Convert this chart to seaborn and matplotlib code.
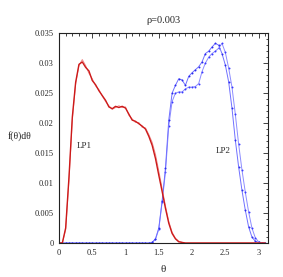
import numpy as np
import pandas as pd
import matplotlib
matplotlib.use("Agg")
import matplotlib.pyplot as plt
import seaborn as sns
from matplotlib.ticker import MultipleLocator, FuncFormatter

theta = np.round(np.arange(0, 3.101, 0.05), 2)

lp1_a = [0, 0, 0.0025, 0.0110, 0.0210, 0.0268, 0.0298, 0.0302, 0.0293, 0.0287,
         0.0271, 0.0264, 0.0254, 0.0246, 0.0238, 0.0227, 0.0224, 0.0228, 0.0226, 0.0228,
         0.0225, 0.0215, 0.0205, 0.0203, 0.0199, 0.0195, 0.0190, 0.0178, 0.0163, 0.0141,
         0.0113, 0.0086, 0.0058, 0.0033, 0.0016, 0.0007, 0.0002, 0.0001, 0, 0,
         0, 0, 0, 0, 0, 0, 0, 0, 0, 0,
         0, 0, 0, 0, 0, 0, 0, 0, 0, 0,
         0, 0, 0]
lp1_b = [0, 0, 0.0022, 0.0105, 0.0205, 0.0265, 0.0296, 0.0306, 0.0296, 0.0283,
         0.0274, 0.0262, 0.0256, 0.0245, 0.0236, 0.0229, 0.0223, 0.0226, 0.0229, 0.0226,
         0.0227, 0.0213, 0.0207, 0.0201, 0.0201, 0.0193, 0.0192, 0.0181, 0.0168, 0.0148,
         0.0120, 0.0091, 0.0062, 0.0036, 0.0018, 0.0008, 0.0003, 0.0001, 0, 0,
         0, 0, 0, 0, 0, 0, 0, 0, 0, 0,
         0, 0, 0, 0, 0, 0, 0, 0, 0, 0,
         0, 0, 0]
lp2_a = [0, 0, 0, 0, 0, 0, 0, 0, 0, 0,
         0, 0, 0, 0, 0, 0, 0, 0, 0, 0,
         0, 0, 0, 0, 0, 0, 0, 0, 0.0001, 0.0007,
         0.0025, 0.0070, 0.0125, 0.0205, 0.0250, 0.0263, 0.0274, 0.0272, 0.0263, 0.0278,
         0.0284, 0.0289, 0.0294, 0.0302, 0.0316, 0.0320, 0.0327, 0.0333, 0.0330, 0.0316,
         0.0297, 0.0269, 0.0225, 0.0172, 0.0127, 0.0088, 0.0055, 0.0027, 0.0010, 0.0003,
         0.0001, 0, 0]
lp2_b = [0, 0, 0, 0, 0, 0, 0, 0, 0, 0,
         0, 0, 0, 0, 0, 0, 0, 0, 0, 0,
         0, 0, 0, 0, 0, 0, 0, 0, 0.0001, 0.0006,
         0.0023, 0.0068, 0.0118, 0.0195, 0.0236, 0.0250, 0.0252, 0.0252, 0.0257, 0.0260,
         0.0260, 0.0261, 0.0266, 0.0286, 0.0300, 0.0310, 0.0316, 0.0320, 0.0325, 0.0333,
         0.0318, 0.0292, 0.0260, 0.0215, 0.0165, 0.0122, 0.0085, 0.0052, 0.0025, 0.0009,
         0.0002, 0, 0]

x_ticks = [0, 0.5, 1, 1.5, 2, 2.5, 3]
y_ticks = [0, 0.005, 0.01, 0.015, 0.02, 0.025, 0.03, 0.035]

sns.set_style("white")
plt.rcParams['font.family'] = ['Liberation Serif', 'DejaVu Serif']
plt.rcParams['mathtext.fontset'] = 'stix'

fig = plt.figure(figsize=(2.83, 2.77), dpi=100)
ax = fig.add_axes([0.2085, 0.1227, 0.7385, 0.7575])

sns.lineplot(x=theta, y=lp2_b, ax=ax, color='#8c8cff', lw=0.7, marker='o',
             markersize=1.4, markeredgewidth=0, markerfacecolor='#3a3aff')
sns.lineplot(x=theta, y=lp2_a, ax=ax, color='#7070ff', lw=0.7, marker='o',
             markersize=1.4, markeredgewidth=0, markerfacecolor='#2a2aee')
sns.lineplot(x=theta, y=lp1_b, ax=ax, color='#f08a8a', lw=0.7)
sns.lineplot(x=theta, y=lp1_a, ax=ax, color='#cc1a1a', lw=1.0)

ax.set_xlim(0, np.pi)
ax.set_ylim(0, 0.035)
ax.set_xticks(x_ticks)
ax.set_yticks(y_ticks)
ax.xaxis.set_major_formatter(FuncFormatter(lambda v, p: f"{v:g}"))
ax.yaxis.set_major_formatter(FuncFormatter(lambda v, p: f"{v:g}"))
ax.xaxis.set_minor_locator(MultipleLocator(0.1))
ax.yaxis.set_minor_locator(MultipleLocator(0.001))
ax.tick_params(which='both', direction='in', top=True, right=True, labelsize=6, pad=4,
               color='#222222', width=0.6)
ax.tick_params(which='major', length=3.5)
ax.tick_params(which='minor', length=1.8)
for s in ax.spines.values():
    s.set_linewidth(0.8)
    s.set_color('#222222')

ax.set_xlabel("θ", fontsize=8, labelpad=6)
ax.set_ylabel("f(θ)dθ", fontsize=7, rotation=0, ha='center', va='center')
ax.yaxis.set_label_coords(-0.187, 0.51)
ax.set_title("ρ=0.003", fontsize=7.5, pad=7)

ax.text(0.385, 0.0162, "LP1", fontsize=6.5, ha='center', va='center')
ax.text(2.47, 0.0154, "LP2", fontsize=6.5, ha='center', va='center')

fig.savefig("out.png", dpi=100)
